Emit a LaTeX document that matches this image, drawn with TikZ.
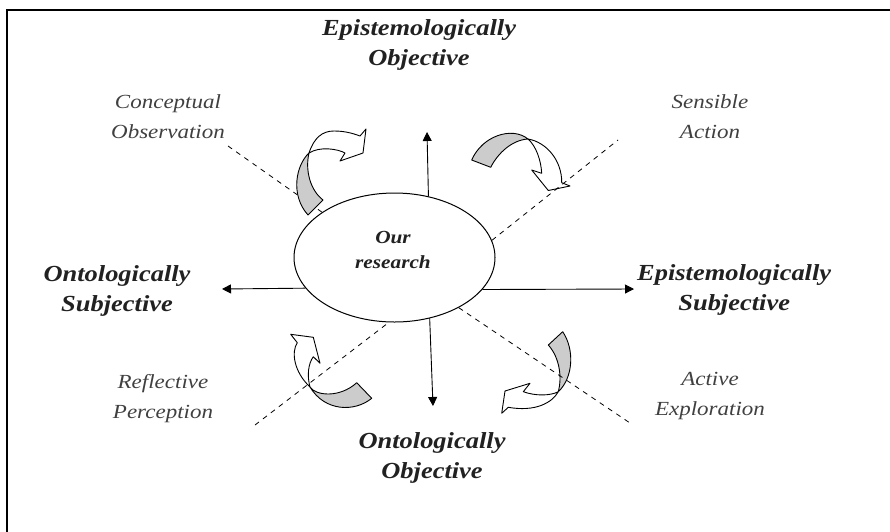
\documentclass[tikz,border=0pt]{standalone}
\usepackage{fontspec}
\setmainfont{Liberation Serif}
\newfontfamily\labelfont{Liberation Serif}[FakeStretch=1.15]
\usetikzlibrary{shapes.geometric,arrows.meta}
\definecolor{ink}{gray}{0.13}
\definecolor{softink}{gray}{0.25}
\definecolor{shade}{gray}{0.80}
\begin{document}
\begin{tikzpicture}[x=1pt,y=-1pt,
  heading/.style={font=\labelfont\fontsize{23}{30}\selectfont\bfseries\itshape, text=ink, align=center, inner sep=0pt},
  side/.style={font=\labelfont\fontsize{20}{30}\selectfont\itshape, text=softink, align=center, inner sep=0pt},
  axis/.style={-{Triangle[length=9pt,width=9pt]}, line width=0.9pt},
  divider/.style={line width=0.8pt, dash pattern=on 5pt off 5pt},
  back/.style={fill=shade, draw=black, line width=0.9pt, line join=round},
  front/.style={fill=white, draw=black, line width=0.9pt, line join=round}]

\useasboundingbox (0,0) rectangle (890,531);
\draw[line width=1.3pt] (7,10) rectangle (900,545);

% central ellipse
\node[draw, ellipse, fill=white, line width=1pt, minimum width=201pt, minimum height=129pt, inner sep=0pt] (hub) at (394.5,257.5) {};
\node[font=\labelfont\fontsize{18.5}{25}\selectfont\bfseries\itshape, text=ink, align=center, inner sep=0pt] (hubtext) at (393,250) {Our\\research};

% dashed divider behind the upper-left arrow
\coordinate (ulEnd) at (228,146);
\draw[divider] (ulEnd) -- (hub.148.7);

% curved arrow, upper left
\coordinate (ulJ) at (309,153);
\draw[back] (ulJ) .. controls (296,165) and (290,195) .. (308,215) -- (323,200)
  .. controls (310,190) and (305,170) .. (ulJ) -- cycle;
\draw[front] (ulJ) .. controls (314,138) and (322,131) .. (334,131)
  .. controls (344,131) and (352,133) .. (360,136) -- (366,129) -- (363,153) -- (340,161) -- (345,153)
  .. controls (338,149) and (320,146) .. (ulJ) -- cycle;

% curved arrow, upper right
\coordinate (urJ) at (528,139);
\draw[back] (471.7,160) .. controls (482,136) and (512,126) .. (urJ)
  .. controls (512,140) and (498,153) .. (490.7,167.3) -- cycle;
\draw[front] (urJ) .. controls (546,142) and (562,160) .. (561.7,182.7) -- (570,186) -- (548.3,190.5)
  -- (531.7,170) -- (541.7,173.3) .. controls (541,160) and (536,146) .. (urJ) -- cycle;

% curved arrow, lower left
\coordinate (llJ) at (310,387);
\draw[back] (llJ) .. controls (316,396) and (340,398) .. (356.7,382.7) -- (371.7,398.3)
  .. controls (355,412) and (325,412) .. (llJ) -- cycle;
\draw[front] (llJ) .. controls (294,372) and (291,352) .. (297.3,342.7) -- (290.7,334.3) -- (313.3,337.3)
  -- (320,363.3) -- (313.3,356.7) .. controls (308,364) and (307,376) .. (llJ) -- cycle;

% curved arrow, lower right
\coordinate (lrJ) at (558.3,391.7);
\draw[back] (548.3,345) -- (562.7,331.7) .. controls (575,350) and (573,378) .. (lrJ)
  .. controls (562,378) and (560,358) .. (548.3,345) -- cycle;
\draw[front] (lrJ) .. controls (552,403) and (535,412) .. (508.3,407.3) -- (501.7,413.3) -- (505,391)
  -- (530,383.3) -- (523.3,391.7) .. controls (535,396) and (550,396) .. (lrJ) -- cycle;

% remaining dashed dividers
\coordinate (urEnd) at (618,140);
\coordinate (llEnd) at (255,425);
\coordinate (lrEnd) at (630,423);
\draw[divider] (hub.10.9) -- (urEnd);
\draw[divider] (llEnd) -- (hub.265.7);
\draw[divider] (hub.322.8) -- (lrEnd);

% axis arrows
\coordinate (upTip) at (427,132);
\coordinate (downTip) at (433,406);
\coordinate (leftTip) at (222,289);
\coordinate (rightTip) at (634,289);
\draw[axis] (hub.61.7) -- (upTip);
\draw[axis] (hub.300.4) -- (downTip);
\draw[axis] (hub.199.8) -- (leftTip);
\draw[axis] (hub.340.4) -- (rightTip);

% axis labels
\node[heading] (epObj) at (419,45) {Epistemologically\\Objective};
\node[heading] (onSub) at (117,291) {Ontologically\\Subjective};
\node[heading, anchor=west] (epSub) at (637,290) {Epistemologically\\Subjective};
\node[heading] (onObj) at (432,458) {Ontologically\\Objective};

% quadrant labels
\node[side] (conc) at (168,117) {Conceptual\\Observation};
\node[side] (sens) at (710,117) {Sensible\\Action};
\node[side] (refl) at (163,399) {Reflective\\Perception};
\node[side] (actv) at (710,396) {Active\\Exploration};
\end{tikzpicture}
\end{document}
